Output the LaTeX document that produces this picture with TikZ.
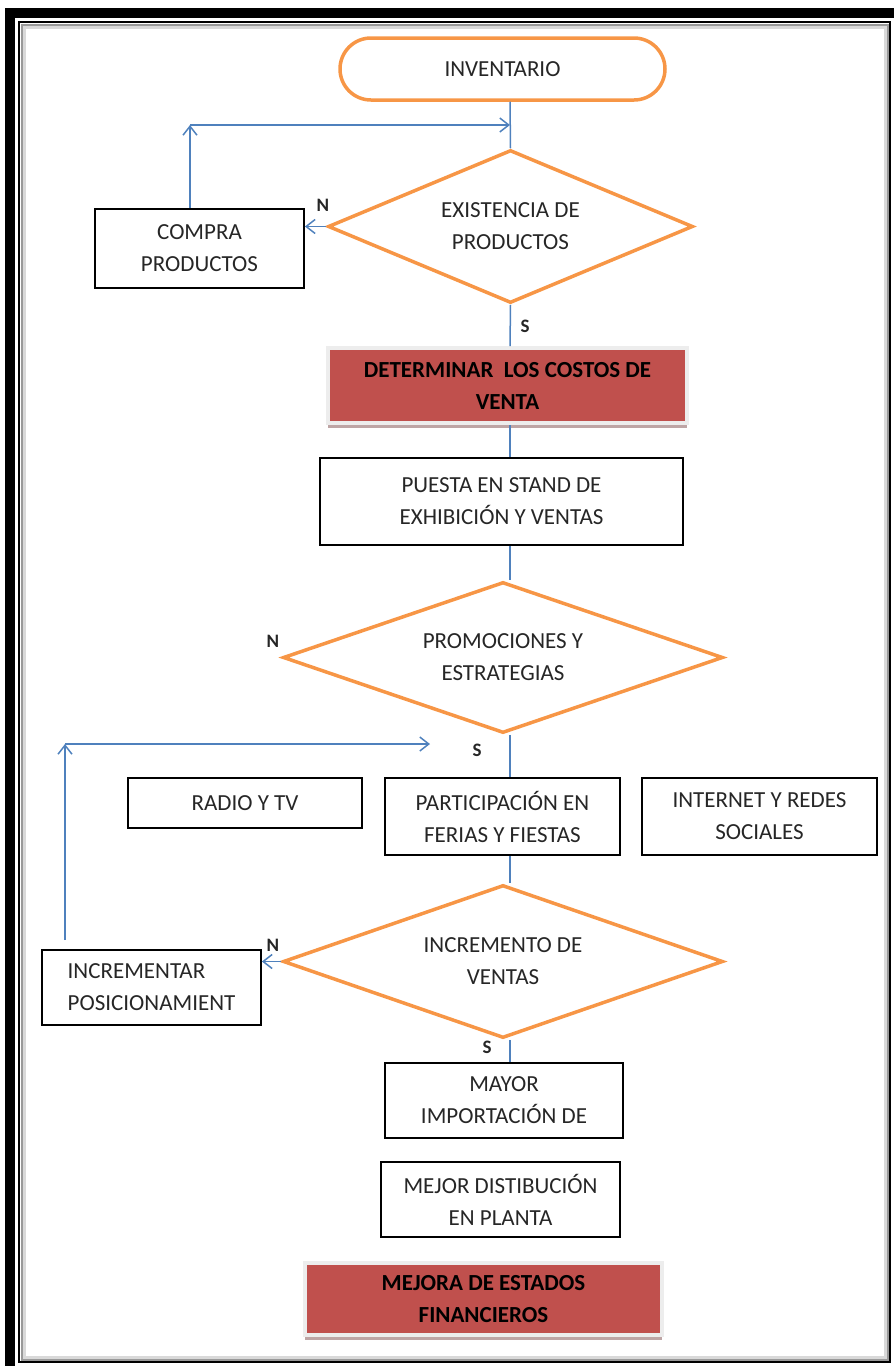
\documentclass[tikz,border=0pt]{standalone}
\usepackage{fontspec}
\setmainfont{Carlito}
\usetikzlibrary{shapes.geometric,arrows.meta,shadows}

\definecolor{orangeline}{RGB}{247,150,70}
\definecolor{blueline}{RGB}{79,129,189}
\definecolor{redfill}{RGB}{192,80,77}
\definecolor{shadowred}{RGB}{190,165,165}

\tikzset{every picture/.style={line width=0.75pt}}
\tikzset{
  flowtext/.style={font=\fontsize{23}{32}\selectfont, text=black!85, align=center, inner sep=1pt},
  terminal/.style={flowtext, draw=orangeline, line width=3.5, rounded corners=31, minimum width=325, minimum height=62},
  decision/.style={flowtext, diamond, aspect=2.4, draw=orangeline, line width=3.5},
  process/.style={flowtext, draw=black, line width=1.8},
  redbox/.style={flowtext, font=\fontsize{23}{32}\selectfont\bfseries, text=black, fill=redfill, draw=black!7, line width=4,
    drop shadow={shadow xshift=0pt, shadow yshift=-5pt, fill=shadowred, opacity=1}},
  answer/.style={font=\fontsize{19}{20}\selectfont\bfseries, text=black!85, inner sep=0.75pt},
  link/.style={draw=blueline, line width=1.5},
  linkarrow/.style={link, -{Straight Barb[length=9, width=14]}}
}

\begin{document}
\begin{tikzpicture}[x=1pt,y=1pt,yscale=-1,xscale=1]
	\useasboundingbox (0,0) rectangle (894,1366);
	
	%Frame
	\draw [line width=10] (10,12.5) rectangle (905,1380);
	\draw [line width=2] (19,22) rectangle (890,1362);
	\draw [black!40, line width=2] (21.5,24.5) rectangle (887.5,1359.5);
	\draw [black!15, line width=3] (24,27) rectangle (885,1357);
	
	%Shapes
	\node [terminal] (inv) at (502.5,69) {INVENTARIO};
	\node [decision, minimum width=365, minimum height=153] (exist) at (510.5,226.5) {EXISTENCIA DE\\PRODUCTOS};
	\node [process, minimum width=209, minimum height=79] (compra) at (199.5,248.5) {COMPRA\\PRODUCTOS};
	\node [redbox, minimum width=359, minimum height=75] (costos) at (507.5,385.5) {DETERMINAR\ \ LOS COSTOS DE\\VENTA};
	\node [process, minimum width=363, minimum height=87] (puesta) at (501.5,501.5) {PUESTA EN STAND DE\\EXHIBICIÓN Y VENTAS};
	\node [decision, minimum width=440, minimum height=151] (promo) at (503,657.5) {PROMOCIONES Y\\ESTRATEGIAS};
	\node [process, minimum width=234, minimum height=50] (radio) at (245,803) {RADIO Y TV};
	\node [process, minimum width=235, minimum height=77] (partic) at (502.5,816.5) {PARTICIPACIÓN EN\\FERIAS Y FIESTAS};
	\node [process, minimum width=235, minimum height=77] (internet) at (759.5,816.5) {INTERNET Y REDES\\SOCIALES};
	\node [decision, minimum width=440, minimum height=153] (incr) at (503,961.5) {INCREMENTO DE\\VENTAS};
	\node [process, minimum width=219, minimum height=75, align=left] (posic) at (151.5,987.5) {INCREMENTAR\\POSICIONAMIENT};
	\node [process, minimum width=238, minimum height=75] (mayor) at (504,1100.5) {MAYOR\\IMPORTACIÓN DE};
	\node [process, minimum width=239, minimum height=75] (mejor) at (500.5,1199.5) {MEJOR DISTIBUCIÓN\\EN PLANTA};
	\node [redbox, minimum width=357, minimum height=72] (mejora) at (483.5,1299) {MEJORA DE ESTADOS\\FINANCIEROS};
	
	%Answers
	\node [answer] (n1) at (323,205) {N};
	\node [answer] (s1) at (525,326) {S};
	\node [answer] (n2) at (273,641) {N};
	\node [answer] (s2) at (477,750) {S};
	\node [answer] (n3) at (273,945) {N};
	\node [answer] (s3) at (487,1047) {S};
	
	%Coordinates
	\coordinate (spine) at (510,0);
	\coordinate (upA) at (190,125);
	\coordinate (upB0) at (65,940);
	\coordinate (upB) at (65,744);
	\coordinate (endB) at (430,744);
	
	%Straight Lines
	\draw [link] (spine |- inv.south) -- (exist.north);
	\draw [linkarrow] (exist.west) -- (compra.east |- exist.west);
	\draw [linkarrow] (compra.north -| upA) -- (upA);
	\draw [linkarrow] (upA) -- (spine |- upA);
	\draw [link] (exist.south) -- (spine |- costos.north);
	\draw [link] (spine |- costos.south) -- (spine |- puesta.north);
	\draw [link] (spine |- puesta.south) -- (spine |- promo.north);
	\draw [link] (spine |- promo.south) -- (spine |- partic.north);
	\draw [link] (spine |- partic.south) -- (spine |- incr.north);
	\draw [linkarrow] (incr.west) -- (posic.east |- incr.west);
	\draw [linkarrow] (upB0) -- (upB);
	\draw [linkarrow] (upB) -- (endB);
	\draw [link] (spine |- incr.south) -- (spine |- mayor.north);
	
\end{tikzpicture}
\end{document}
